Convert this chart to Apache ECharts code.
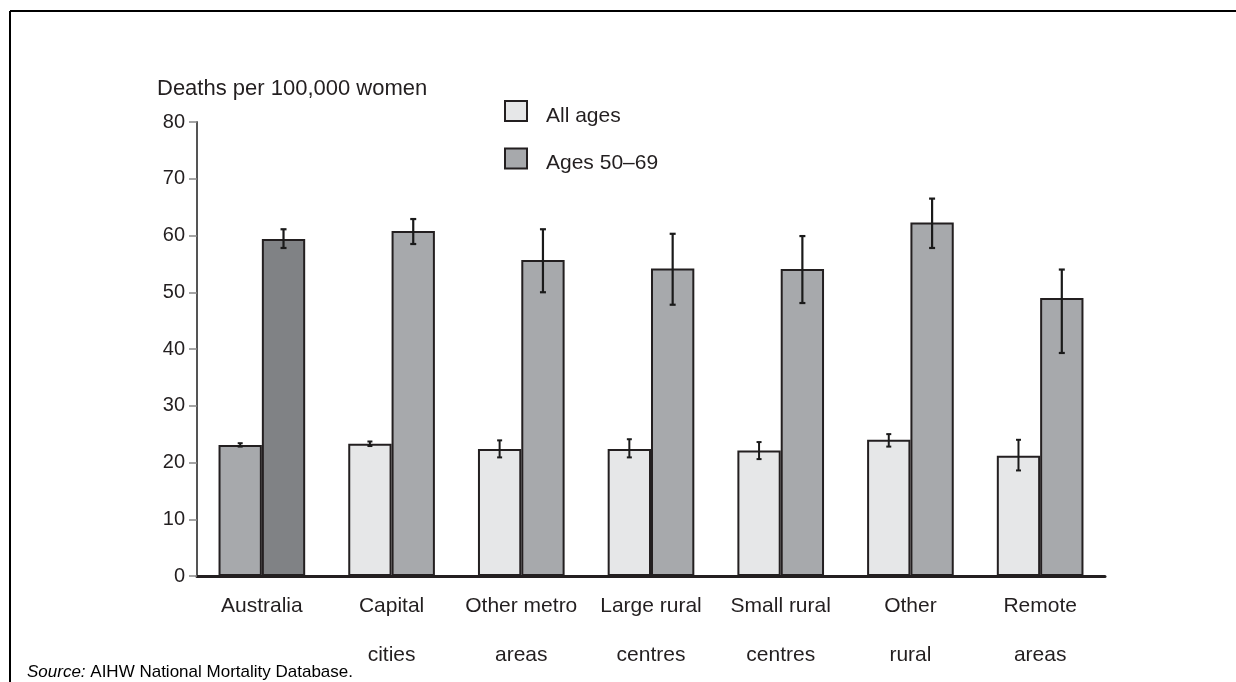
<!DOCTYPE html>
<html>
<head>
<meta charset="utf-8">
<script src="https://cdn.jsdelivr.net/npm/echarts@6/dist/echarts.min.js"></script>
<style>
  html, body { margin: 0; padding: 0; background: #fff; }
  #chart { width: 1236px; height: 682px; }
</style>
</head>
<body>
<div id="chart"></div>
<script>
// Breast cancer deaths per 100,000 women, by remoteness area
const categories = ['Australia', 'Capital\ncities', 'Other metro\nareas', 'Large rural\ncentres',
                    'Small rural\ncentres', 'Other\nrural', 'Remote\nareas'];
const yTicks = [0, 10, 20, 30, 40, 50, 60, 70, 80];

const allAges     = [23.1, 23.3, 22.4, 22.4, 22.1, 24.0, 21.2];
const allAgesLow  = [22.8, 22.9, 20.9, 20.9, 20.6, 22.8, 18.6];
const allAgesHigh = [23.4, 23.7, 23.9, 24.1, 23.6, 25.0, 24.0];

const ages5069     = [59.4, 60.8, 55.7, 54.2, 54.1, 62.3, 49.0];
const ages5069Low  = [57.8, 58.5, 50.0, 47.8, 48.1, 57.8, 39.3];
const ages5069High = [61.1, 62.9, 61.1, 60.3, 59.9, 66.5, 54.0];

const LIGHT = '#e6e7e8', MID = '#a7a9ac', DARK = '#808285', INK = '#231f20';
const FONT = 'Liberation Sans, Arial, sans-serif';
const BAR_SHARE = 0.334;   // each bar's share of the category band

const chart = echarts.init(document.getElementById('chart'));

// Whisker (confidence interval) drawn beside a bar: side -1 = left bar, +1 = right bar
function whisker(side, lows, highs, lineW, capW) {
  return function (params, api) {
    const i = api.value(0);
    const band = api.size([1, 0])[0];
    const dx = side * band * BAR_SHARE / 2;
    const top = api.coord([i, highs[i]]);
    const bot = api.coord([i, lows[i]]);
    const x = top[0] + dx;
    const style = { stroke: '#1a1a1a', lineWidth: lineW };
    return {
      type: 'group',
      children: [
        { type: 'line', shape: { x1: x, y1: top[1], x2: x, y2: bot[1] }, style },
        { type: 'line', shape: { x1: x - capW / 2, y1: top[1], x2: x + capW / 2, y2: top[1] }, style },
        { type: 'line', shape: { x1: x - capW / 2, y1: bot[1], x2: x + capW / 2, y2: bot[1] }, style }
      ]
    };
  };
}

const idx = categories.map((c, i) => i);

chart.setOption({
  animation: false,
  textStyle: { fontFamily: FONT, color: INK },
  title: {
    text: 'Deaths per 100,000 women',
    left: 157, top: 78, padding: 0,
    textStyle: { fontFamily: FONT, fontSize: 22, fontWeight: 'normal', color: INK }
  },
  legend: {
    orient: 'vertical',
    left: 504, top: 100, padding: 0,
    itemWidth: 22, itemHeight: 20, itemGap: 21,
    icon: 'rect',
    data: ['All ages', 'Ages 50–69'],
    formatter: '{t|{name}}',
    textStyle: {
      fontFamily: FONT, fontSize: 21, color: INK,
      rich: { t: { fontFamily: FONT, fontSize: 21, color: INK, padding: [10, 0, 0, 14] } }
    }
  },
  grid: { left: 197, right: 131, top: 122, bottom: 106 },
  xAxis: {
    type: 'category',
    data: categories,
    axisLine: { lineStyle: { color: INK, width: 3 } },
    axisTick: { alignWithLabel: true, length: 8, lineStyle: { color: '#888', width: 1.5 } },
    axisLabel: { interval: 0, fontFamily: FONT, fontSize: 21, color: INK, lineHeight: 49, margin: 6 }
  },
  yAxis: {
    type: 'value',
    min: yTicks[0], max: yTicks[yTicks.length - 1], interval: 10,
    axisLine: { show: true, lineStyle: { color: '#555', width: 2 } },
    axisTick: { show: true, length: 8, lineStyle: { color: '#888', width: 1.5 } },
    axisLabel: { fontFamily: FONT, fontSize: 20, color: INK, margin: 12 },
    splitLine: { show: false }
  },
  series: [
    {
      name: 'All ages',
      type: 'bar',
      barWidth: (BAR_SHARE * 100) + '%',
      barGap: '0%',
      itemStyle: { color: LIGHT, borderColor: INK, borderWidth: 2 },
      data: allAges.map((v, i) => i === 0 ? { value: v, itemStyle: { color: MID } } : v)
    },
    {
      name: 'Ages 50–69',
      type: 'bar',
      barWidth: (BAR_SHARE * 100) + '%',
      barGap: '0%',
      itemStyle: { color: MID, borderColor: INK, borderWidth: 2 },
      data: ages5069.map((v, i) => i === 0 ? { value: v, itemStyle: { color: DARK } } : v)
    },
    {
      type: 'custom',
      z: 5,
      renderItem: whisker(-1, allAgesLow, allAgesHigh, 2, 5),
      data: idx.map(i => [i, allAgesHigh[i]])
    },
    {
      type: 'custom',
      z: 5,
      renderItem: whisker(1, ages5069Low, ages5069High, 2.2, 6),
      data: idx.map(i => [i, ages5069High[i]])
    }
  ],
  graphic: [
    // frame around the figure (open at right and bottom)
    { type: 'line', shape: { x1: 10, y1: 11, x2: 1236, y2: 11 }, style: { stroke: '#000', lineWidth: 2 } },
    { type: 'line', shape: { x1: 10, y1: 11, x2: 10, y2: 682 }, style: { stroke: '#000', lineWidth: 2 } },
    {
      type: 'text', left: 27, top: 664,
      style: {
        text: '{i|Source:} AIHW National Mortality Database.',
        font: '17px ' + FONT, fill: '#000',
        rich: { i: { fontStyle: 'italic', fontSize: 17, fontFamily: FONT, fill: '#000' } }
      }
    }
  ]
});
</script>
</body>
</html>
